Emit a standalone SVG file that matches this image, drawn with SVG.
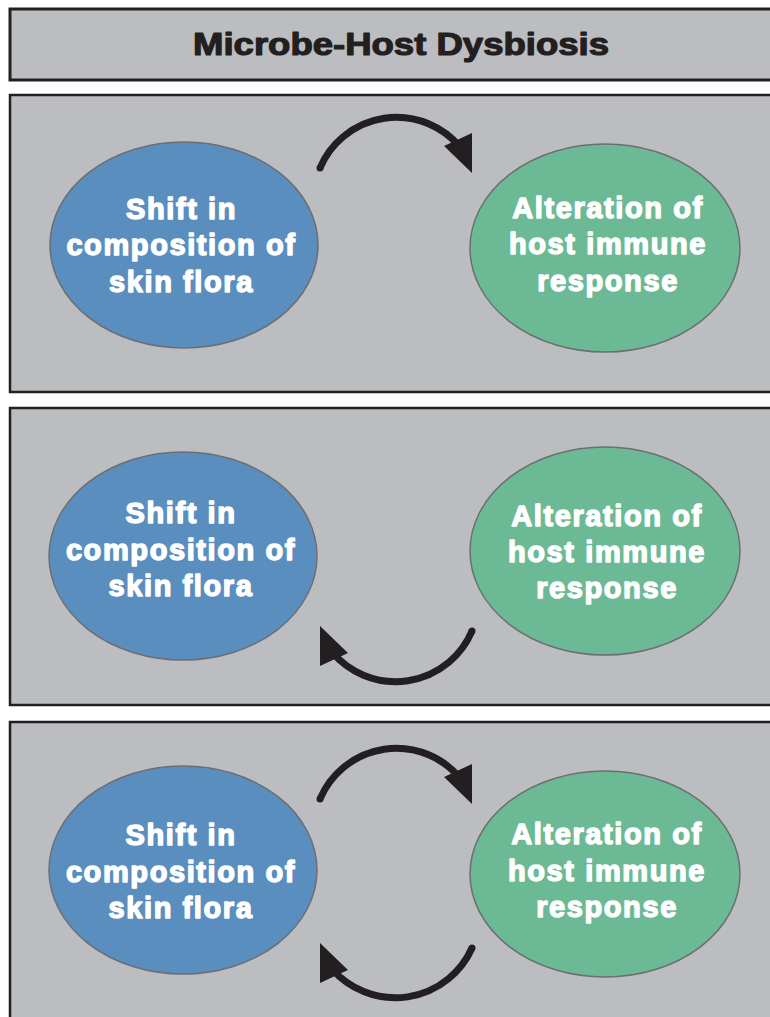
<svg xmlns="http://www.w3.org/2000/svg" width="770" height="1017" viewBox="0 0 770 1017">
<style>
.panel{fill:#bcbdc0;stroke:#231f20;stroke-width:2.5}
.blue{fill:#5a8ebe;stroke:#6d6e71;stroke-width:1.5}
.green{fill:#6cb995;stroke:#6d6e71;stroke-width:1.5}
.lbl{font-family:"Liberation Sans",Arial,sans-serif;font-weight:bold;font-size:29px;fill:#fff;stroke:#fff;stroke-width:1.4;stroke-linejoin:round;letter-spacing:1.6px;text-anchor:middle}
.title{font-family:"Liberation Sans",Arial,sans-serif;font-weight:bold;font-size:32px;fill:#231f20;stroke:#231f20;stroke-width:1.2;stroke-linejoin:round;text-anchor:middle}
.arc{fill:none;stroke:#231f20;stroke-width:7}
.head{fill:#231f20}
</style>
<rect width="770" height="1017" fill="#fff"/>
<g id="title">
<rect class="panel" x="10" y="9" width="775" height="71" style="stroke-width:3"/>
<text class="title" x="401" y="55" textLength="416" lengthAdjust="spacingAndGlyphs">Microbe-Host Dysbiosis</text>
</g>
<g id="panels">
<rect class="panel" x="10" y="95" width="775" height="297"/>
<rect class="panel" x="10" y="408" width="775" height="297"/>
<rect class="panel" x="10" y="722" width="775" height="310"/>
</g>
<g id="node-p1-flora">
<ellipse class="blue" cx="184" cy="245" rx="134" ry="103"/>
<text class="lbl" x="181.5"><tspan x="181.5" y="219">Shift in</tspan><tspan x="181.5" y="255">composition of</tspan><tspan x="181.5" y="292">skin flora</tspan></text>
</g>
<g id="node-p1-immune">
<ellipse class="green" cx="605" cy="248" rx="135" ry="104"/>
<text class="lbl" x="608"><tspan x="608" y="218">Alteration of</tspan><tspan x="608" y="254">host immune</tspan><tspan x="608" y="291">response</tspan></text>
</g>
<g id="node-p2-flora">
<ellipse class="blue" cx="183" cy="556" rx="134" ry="104"/>
<text class="lbl" x="181"><tspan x="181" y="523">Shift in</tspan><tspan x="181" y="560">composition of</tspan><tspan x="181" y="596">skin flora</tspan></text>
</g>
<g id="node-p2-immune">
<ellipse class="green" cx="605" cy="551" rx="135" ry="104"/>
<text class="lbl" x="607"><tspan x="607" y="526">Alteration of</tspan><tspan x="607" y="562">host immune</tspan><tspan x="607" y="598">response</tspan></text>
</g>
<g id="node-p3-flora">
<ellipse class="blue" cx="183" cy="870" rx="134" ry="104"/>
<text class="lbl" x="181"><tspan x="181" y="845">Shift in</tspan><tspan x="181" y="882">composition of</tspan><tspan x="181" y="918">skin flora</tspan></text>
</g>
<g id="node-p3-immune">
<ellipse class="green" cx="605" cy="874" rx="135" ry="103"/>
<text class="lbl" x="607"><tspan x="607" y="844">Alteration of</tspan><tspan x="607" y="881">host immune</tspan><tspan x="607" y="917">response</tspan></text>
</g>
<g id="connectors">
<path class="arc" d="M320,168 A83,83 0 0 1 460,147"/>
<path class="arc" d="M320,168 l0,0" stroke-linecap="round"/>
<polygon class="head" points="444,146 472,133 472,173"/>
<path class="arc" d="M472,631 A83,83 0 0 1 332,652"/>
<path class="arc" d="M472,631 l0,0" stroke-linecap="round"/>
<polygon class="head" points="348,653 320,666 320,626"/>
<path class="arc" d="M320,799 A83,83 0 0 1 460,778"/>
<path class="arc" d="M320,799 l0,0" stroke-linecap="round"/>
<polygon class="head" points="444,777 472,764 472,804"/>
<path class="arc" d="M472,948 A84,84 0 0 1 332,969"/>
<path class="arc" d="M472,948 l0,0" stroke-linecap="round"/>
<polygon class="head" points="348,970 320,983 320,943"/>
</g>
</svg>
